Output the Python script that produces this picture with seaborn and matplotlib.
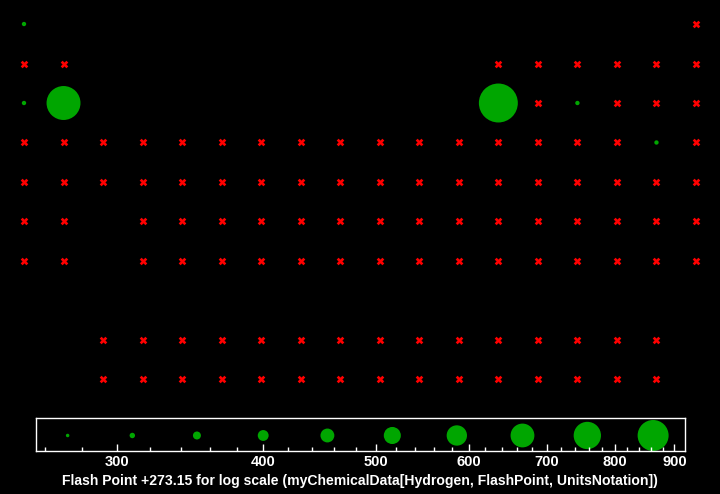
import numpy as np
import pandas as pd
import matplotlib
matplotlib.use("Agg")
import matplotlib.pyplot as plt
import seaborn as sns
from matplotlib.ticker import FixedLocator, FixedFormatter, NullFormatter

# ---------------- data ----------------
symbols = ("H He Li Be B C N O F Ne Na Mg Al Si P S Cl Ar "
           "K Ca Sc Ti V Cr Mn Fe Co Ni Cu Zn Ga Ge As Se Br Kr "
           "Rb Sr Y Zr Nb Mo Tc Ru Rh Pd Ag Cd In Sn Sb Te I Xe "
           "Cs Ba La Ce Pr Nd Pm Sm Eu Gd Tb Dy Ho Er Tm Yb Lu "
           "Hf Ta W Re Os Ir Pt Au Hg Tl Pb Bi Po At Rn "
           "Fr Ra Ac Th Pa U Np Pu Am Cm Bk Cf Es Fm Md No Lr "
           "Rf Db Sg Bh Hs Mt Ds Rg Cn Nh Fl Mc Lv Ts Og").split()

groups = ([1, 18]
          + [1, 2, 13, 14, 15, 16, 17, 18]
          + [1, 2, 13, 14, 15, 16, 17, 18]
          + list(range(1, 19))
          + list(range(1, 19))
          + [1, 2] + list(range(3, 18)) + list(range(4, 19))
          + [1, 2] + list(range(3, 18)) + list(range(4, 19)))

periods = ([1] * 2 + [2] * 8 + [3] * 8 + [4] * 18 + [5] * 18
           + [6] * 2 + [9] * 15 + [6] * 15
           + [7] * 2 + [10] * 15 + [7] * 15)

# flash point + 273.15 (K) for elements that have a value
flash_symbols = ["H", "Na", "Mg", "Al", "P", "Br"]
flash_values = [290, 290, 956, 1133, 290, 290]

legend_values = [272, 309, 351, 400, 454, 516, 586, 667, 758, 863]
major_ticks = [300, 400, 500, 600, 700, 800, 900]
major_labels = ["300", "400", "500", "600", "700", "800", "900"]
minor_ticks = [260, 280, 320, 340, 360, 380, 420, 440, 460, 480,
               520, 540, 560, 580, 620, 640, 660, 680, 720, 740, 760, 780,
               820, 840, 860, 880]
x_label = "Flash Point +273.15 for log scale (myChemicalData[Hydrogen, FlashPoint, UnitsNotation])"

# ---------------- styling helpers ----------------
GREEN = "#00a600"
RED = "#ff0000"
LMIN, LMAX = 272.0, 863.0


def bubble_area(v):
    v = np.asarray(v, dtype=float)
    t = np.clip((np.log(v) - np.log(LMIN)) / (np.log(LMAX) - np.log(LMIN)), 0, None)
    d_px = 3.5 + 27.5 * t ** 1.2
    d_pt = d_px * 0.72
    return d_pt ** 2


df = pd.DataFrame({"symbol": symbols, "group": groups, "period": periods})
fp = dict(zip(flash_symbols, flash_values))
df["flash"] = df["symbol"].map(fp)
present = df[df["flash"].notna()].copy()
missing = df[df["flash"].isna()].copy()

plt.rcParams["font.family"] = ["Liberation Sans", "DejaVu Sans"]

fig = plt.figure(figsize=(7.2, 4.94), dpi=100, facecolor="black")

# main periodic-table grid
ax = fig.add_axes([0, 94 / 494, 1, 400 / 494])
ax.set_facecolor("black")
sns.scatterplot(data=missing, x="group", y="period", marker="X", color=RED,
                s=30, linewidth=0, ax=ax, legend=False)
sns.scatterplot(data=present, x="group", y="period", marker="o", color=GREEN,
                s=bubble_area(present["flash"]), linewidth=0, ax=ax, legend=False)
ax.set_xlim(0.393, 18.607)
ax.set_ylim(10.52, 0.392)
ax.axis("off")

# size legend strip
lax = fig.add_axes([35.5 / 720, 43 / 494, 649.5 / 720, 33 / 494])
lax.set_facecolor("black")
ldf = pd.DataFrame({"value": legend_values, "y": [0.47] * len(legend_values)})
sns.scatterplot(data=ldf, x="value", y="y", marker="o", color=GREEN,
                s=bubble_area(ldf["value"]), linewidth=0, ax=lax, legend=False)
lax.set_xscale("log")
lax.set_xlim(255.3, 919)
lax.set_ylim(0, 1)
lax.xaxis.set_major_locator(FixedLocator(major_ticks))
lax.xaxis.set_major_formatter(FixedFormatter(major_labels))
lax.xaxis.set_minor_locator(FixedLocator(minor_ticks))
lax.xaxis.set_minor_formatter(NullFormatter())
lax.tick_params(axis="x", which="major", direction="in", length=5, width=1,
                color="white", labelcolor="white", labelsize=10.5, pad=3)
lax.tick_params(axis="x", which="minor", direction="in", length=3, width=1,
                color="white")
lax.tick_params(axis="y", left=False, labelleft=False)
for lab in lax.get_xticklabels():
    lab.set_fontweight("bold")
for sp in lax.spines.values():
    sp.set_color("white")
    sp.set_linewidth(1)
lax.set_xlabel("")
lax.set_ylabel("")

fig.text(0.5, 1 - 481 / 494, x_label, ha="center", va="center",
         color="white", fontsize=10.1, fontweight="bold")

fig.savefig("out.png", dpi=100, facecolor="black")
